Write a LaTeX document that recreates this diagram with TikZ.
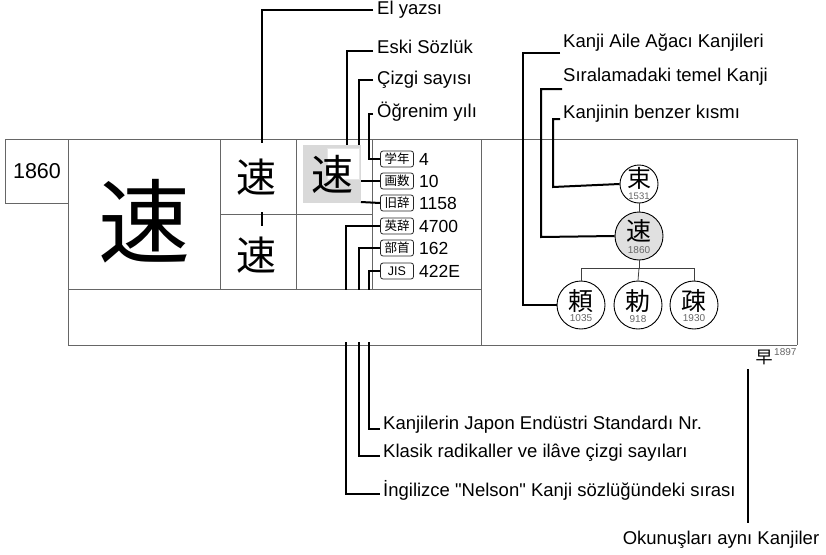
\documentclass[tikz,border=0pt]{standalone}
\usepackage{fontspec}
\setmainfont{Liberation Sans}
\newfontfamily\plainsans{Liberation Sans}[Ligatures=TeXOff]
\newfontfamily\jp{Noto Sans CJK JP}
\begin{document}
\begin{tikzpicture}[x=1pt,y=-1pt,
  tbl/.style={draw=black!60, line width=0.9pt},
  lead/.style={draw=black, line width=2pt},
  thin/.style={draw=black!75, line width=0.8pt},
  lbl/.style={anchor=west, inner sep=0pt, font=\plainsans\fontsize{18.5}{21}\selectfont},
  val/.style={anchor=west, inner sep=0pt, font=\fontsize{17.5}{20}\selectfont},
  tag/.style={draw=black!85, line width=0.8pt, rounded corners=2.5pt, minimum width=33pt, minimum height=16pt, inner sep=0pt, font=\jp\fontsize{12.5}{12.5}\selectfont},
  kj/.style={inner sep=0pt, font=\jp\fontsize{#1}{#1}\selectfont},
  circ/.style={circle, draw=black, line width=0.9pt, inner sep=0pt, minimum size=#1},
  small/.style={inner sep=0pt, text=black!60, font=\fontsize{10}{10}\selectfont}]
\useasboundingbox (0,0) rectangle (826,554);

% gray highlight cell content
\fill[black!15] (303,145) rectangle (361,203);
\filldraw[fill=white, draw=black!10, line width=0.8pt] (327,148) rectangle (359,179);
\node[kj=42] (kg) at (332,174) {速};
\coordinate (gtop) at (332,145);

% table
\draw[tbl] (5,139) -- (797,139);
\draw[tbl] (5,139) -- (5,203) -- (68,203);
\draw[tbl] (68,139) -- (68,345);
\draw[tbl] (220,139) -- (220,289);
\draw[tbl] (296,139) -- (296,289);
\draw[tbl] (372,139) -- (372,289);
\draw[tbl] (220,214) -- (372,214);
\draw[tbl] (68,289) -- (481,289);
\draw[tbl] (68,345) -- (797,345);
\draw[tbl] (481,139) -- (481,345);
\draw[tbl] (797,139) -- (797,345);

% left cells
\node[inner sep=0pt, font=\fontsize{21.5}{24}\selectfont] (num) at (37,171) {1860};
\node[kj=92] (big) at (144,221) {速};
\node[kj=40] (hw) at (256,177) {速};
\node[kj=40] (hw2) at (256,255) {速};

% tags and values
\node[tag] (t1) at (397,159) {学年};
\node[tag] (t2) at (397,181) {画数};
\node[tag] (t3) at (397,203) {旧辞};
\node[tag] (t4) at (397,226) {英辞};
\node[tag] (t5) at (397,248) {部首};
\node[tag, font=\fontsize{12.5}{12.5}\selectfont] (t6) at (397,271) {JIS};
\node[val] (v1) at (419,159) {4};
\node[val] (v2) at (419,181) {10};
\node[val] (v3) at (419,203) {1158};
\node[val] (v4) at (419,226) {4700};
\node[val] (v5) at (419,248) {162};
\node[val] (v6) at (419,271) {422E};

% top labels
\node[lbl] (l1) at (377,10) {El yazsı};
\node[lbl] (l2) at (377,47) {Eski Sözlük};
\node[lbl] (l3) at (377,80) {Çizgi sayısı};
\node[lbl] (l4) at (377,112) {Öğrenim yılı};
\coordinate (e1) at (262,143);
\coordinate (e2) at (347,145);
\coordinate (e3) at (359,145);
\draw[lead] (373,10) -- (262,10) -- (e1);
\draw[lead] (262,212) -- (262,226);
\draw[lead] (373,51) -- (347,51) -- (e2);
\draw[lead] (373,80) -- (359,80) -- (e3);
\draw[lead] (373,114) -- (369,114) -- (369,159) -- (t1.west);
\draw[lead] (361,181) -- (t2.west);
\draw[lead] (361,202) -- (t3.west);

% bottom leaders
\node[lbl] (b1) at (383,425) {Kanjilerin Japon Endüstri Standardı Nr.};
\node[lbl] (b2) at (383,453) {Klasik radikaller ve ilâve çizgi sayıları};
\node[lbl] (b3) at (383,490) {İngilizce "Nelson" Kanji sözlüğündeki sırası};
\draw[lead] (t4.west) -- (346,226) -- (346,494) -- (380,494);
\draw[lead] (t5.west) -- (359,248) -- (359,456) -- (380,456);
\draw[lead] (t6.west) -- (369,271) -- (369,429) -- (380,429);
\fill[white] (69,290) rectangle (480,342);

% tree
\node[circ=38pt] (c1) at (639,184) {};
\node[circ=48pt, fill=black!12] (c2) at (639,236) {};
\node[circ=48pt] (c3) at (581,305) {};
\node[circ=48pt] (c4) at (638,305) {};
\node[circ=48pt] (c5) at (694,305) {};
\node[kj=24] at (639,178) {束};
\node[small, font=\fontsize{9.5}{9.5}\selectfont] at (639,196) {1531};
\node[kj=25] at (639,231) {速};
\node[small] at (639,250) {1860};
\node[kj=25] at (581,301) {頼};
\node[small] at (581,318) {1035};
\node[kj=25] at (638,301) {勅};
\node[small] at (638,319) {918};
\node[kj=25] at (694,301) {疎};
\node[small] at (694,318) {1930};
\draw[thin] (c1.south) -- (c2.north);
\draw[thin] (c2.south) -- (639,268) coordinate (br);
\draw[thin] (c3.north) -- (581,268) -- (694,268) -- (c5.north);
\draw[thin] (br) -- (c4.north);

% right labels
\node[lbl] (r1) at (563,43) {Kanji Aile Ağacı Kanjileri};
\node[lbl] (r2) at (563,77) {Sıralamadaki temel Kanji};
\node[lbl] (r3) at (563,114) {Kanjinin benzer kısmı};
\draw[lead] (560,53) -- (523,53) -- (523,305) -- (c3.west);
\draw[lead] (562,89) -- (541,89) -- (541,237) -- (c2.west);
\draw[lead] (560,119) -- (553,119) -- (553,187) -- (c1.west);

% homophones
\node[kj=17] (hay) at (764,357) {早};
\node[small, anchor=west] (hayn) at (774,352) {1897};
\node[inner sep=0pt, font=\plainsans\fontsize{18.5}{21}\selectfont] (ok) at (721,540) {Okunuşları aynı Kanjiler};
\coordinate (okt) at (748,369);
\draw[lead] (okt) -- (748,523);
\end{tikzpicture}
\end{document}
